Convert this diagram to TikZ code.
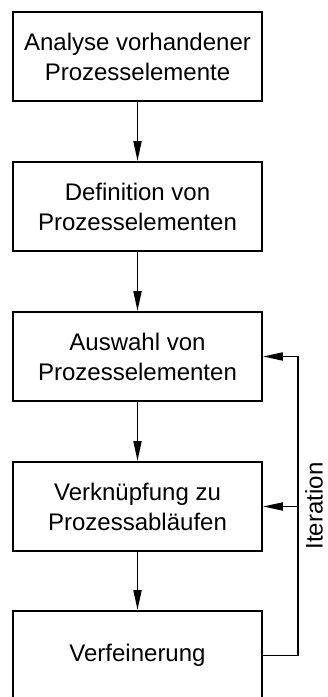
\documentclass[tikz,border=0pt]{standalone}
\usepackage{fontspec}
\setmainfont{Liberation Sans}
\usetikzlibrary{arrows.meta}
\begin{document}
\begin{tikzpicture}[x=1pt,y=1pt,
  stepbox/.style={draw, line width=1.9pt, minimum width=249pt, minimum height=89pt,
    inner sep=0pt, align=center, font=\fontsize{24}{30}\selectfont},
  flow/.style={line width=1.9pt, -{Triangle[length=20pt,width=8pt]}},
  loopline/.style={line width=1.9pt}]
  \useasboundingbox (0,0) rectangle (328,697);
  \clip (0,0) rectangle (328,697);
  \node[stepbox] (s1) at (137.5,640.5) {Analyse vorhandener\\Prozesselemente};
  \node[stepbox] (s2) at (137.5,490.5) {Definition von\\Prozesselementen};
  \node[stepbox] (s3) at (137.5,340.5) {Auswahl von\\Prozesselementen};
  \node[stepbox] (s4) at (137.5,190.5) {Verknüpfung zu\\Prozessabläufen};
  \node[stepbox] (s5) at (137.5,41.5) {Verfeinerung};
  \draw[flow] (s1) -- (s2);
  \draw[flow] (s2) -- (s3);
  \draw[flow] (s3) -- (s4);
  \draw[flow] (s4) -- (s5);
  \coordinate (loopbot) at (297.7,41.5);
  \coordinate (looptop) at (297.7,340.5);
  \coordinate (loopmid) at (297.7,190.5);
  \draw[loopline] (s5.east) -- (loopbot) -- (looptop);
  \draw[flow] (looptop) -- (s3.east);
  \draw[flow] (loopmid) -- (s4.east);
  \node[rotate=90, anchor=base, font=\fontsize{24}{30}\selectfont, inner sep=0pt] (it) at (322.5,191) {Iteration};
\end{tikzpicture}
\end{document}
